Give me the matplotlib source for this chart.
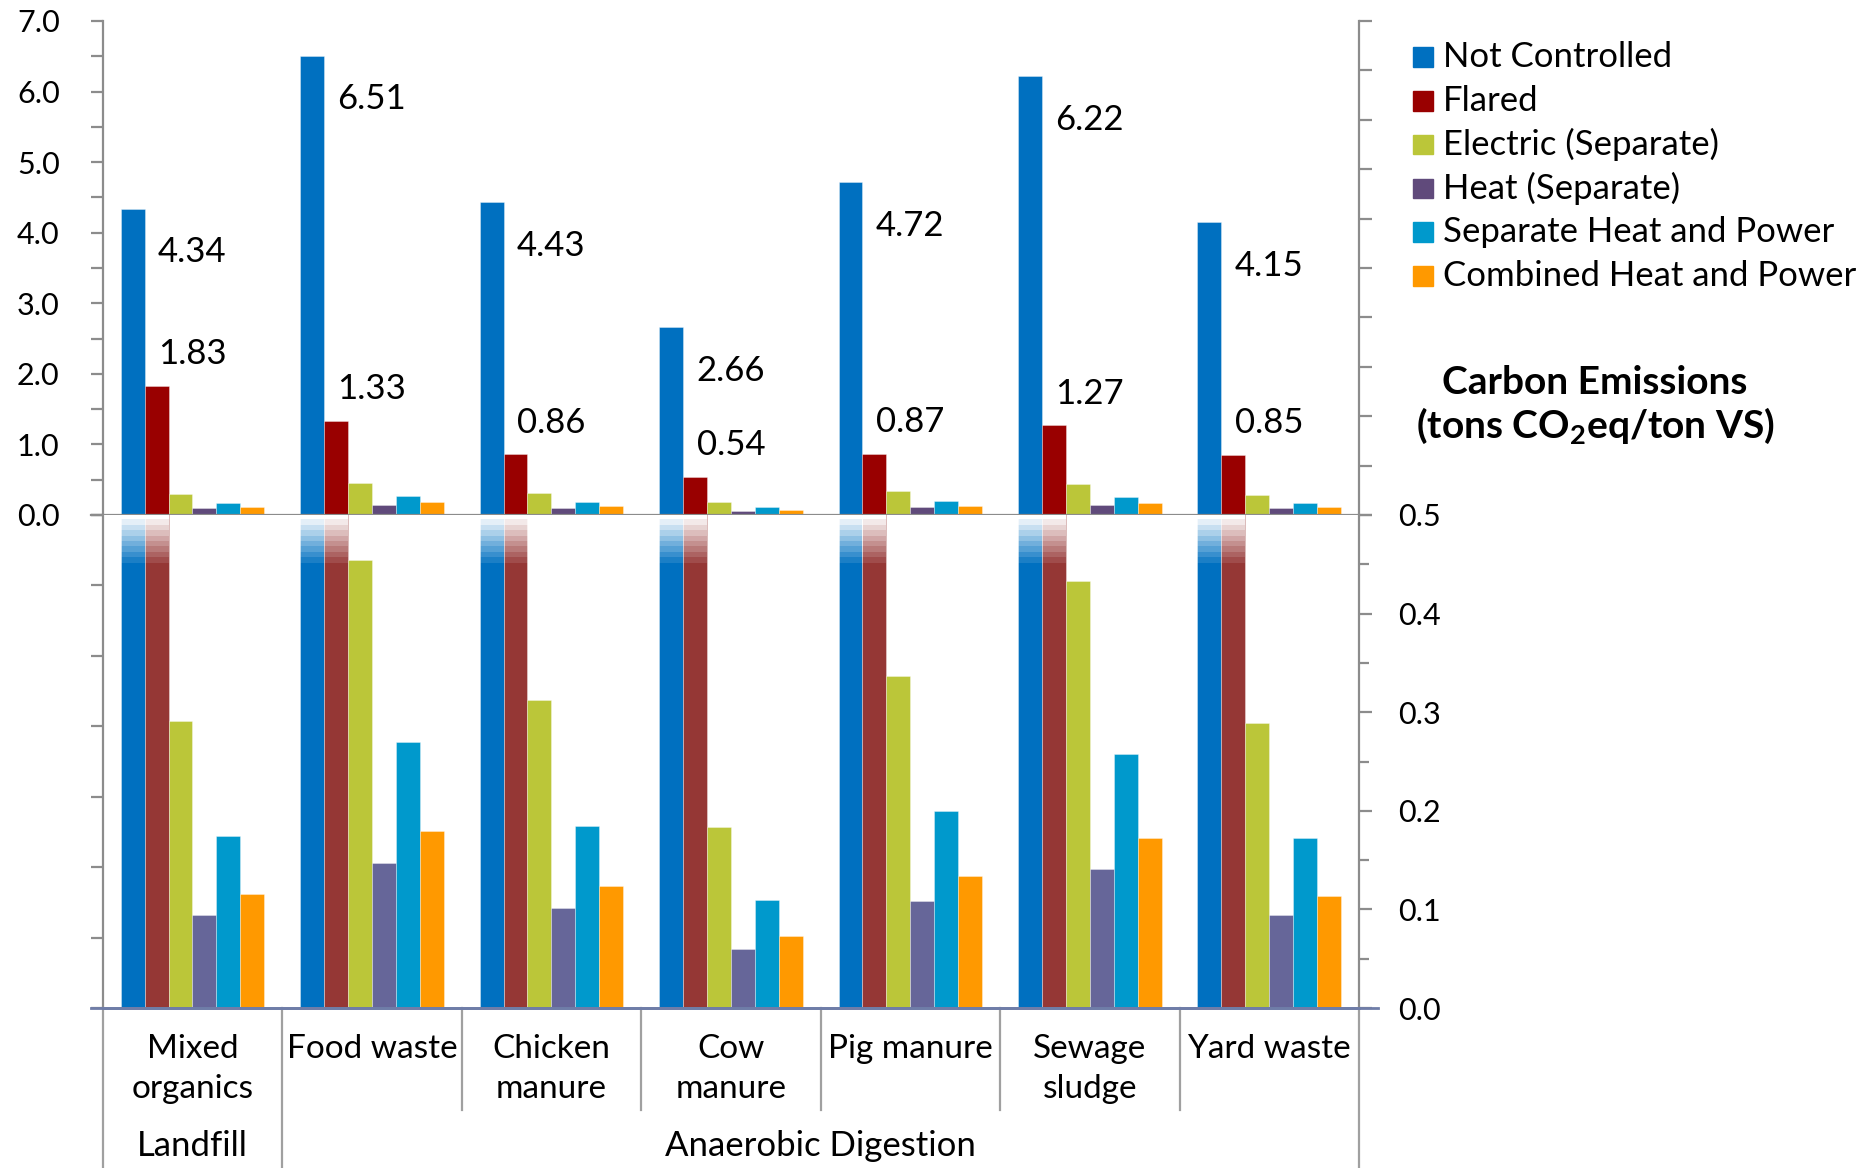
import numpy as np
import matplotlib
matplotlib.use("Agg")
import matplotlib.pyplot as plt
from matplotlib.patches import Rectangle
from matplotlib.transforms import blended_transform_factory

plt.rcParams["font.family"] = ["Lato", "DejaVu Sans"]
plt.rcParams["mathtext.fontset"] = "custom"
plt.rcParams["mathtext.rm"] = "Lato"
plt.rcParams["mathtext.bf"] = "Lato:bold"

# feedstocks and treatment groups
categories = ["Mixed\norganics", "Food waste", "Chicken\nmanure", "Cow\nmanure",
              "Pig manure", "Sewage\nsludge", "Yard waste"]
group_names = ["Landfill", "Anaerobic Digestion"]
group_spans = [(0, 0), (1, 6)]

series = ["Not Controlled", "Flared", "Electric (Separate)", "Heat (Separate)",
          "Separate Heat and Power", "Combined Heat and Power"]

# tons CO2eq / ton VS
not_controlled = [4.34, 6.51, 4.43, 2.66, 4.72, 6.22, 4.15]
flared = [1.83, 1.33, 0.86, 0.54, 0.87, 1.27, 0.85]
electric = [0.291, 0.454, 0.312, 0.184, 0.337, 0.433, 0.289]
heat = [0.094, 0.147, 0.101, 0.060, 0.109, 0.141, 0.094]
sep_heat_power = [0.174, 0.270, 0.185, 0.110, 0.200, 0.258, 0.172]
chp = [0.116, 0.180, 0.124, 0.073, 0.134, 0.172, 0.114]

values = [not_controlled, flared, electric, heat, sep_heat_power, chp]
colors_top = ["#0070C0", "#990000", "#BBC639", "#604A7B", "#0099CC", "#FF9900"]
colors_low = ["#0070C0", "#953735", "#BBC639", "#666699", "#0099CC", "#FF9900"]

W, H = 1872, 1168
fig = plt.figure(figsize=(W / 100, H / 100), dpi=100)


def fx(px):
    return px / W


def fy(px):
    return 1 - px / H


x_left, x_right = 102.7, 1359
ax1 = fig.add_axes([fx(x_left), fy(515), fx(x_right) - fx(x_left), fy(21) - fy(515)])
ax2 = fig.add_axes([fx(x_left), fy(1008), fx(x_right) - fx(x_left), fy(515) - fy(1008)])

grey = "#8C8C8C"
x = np.arange(len(categories))
width = 0.8 / 6

for i, (vals, c1, c2) in enumerate(zip(values, colors_top, colors_low)):
    pos = x + (i - 2.5) * width
    ax1.bar(pos, vals, width, color=c1, edgecolor=(1, 1, 1, 0.4), linewidth=0.6, zorder=2)
    ax2.bar(pos, vals, width, color=c2, edgecolor=(1, 1, 1, 0.4), linewidth=0.6, zorder=2)
    # fade the tops of bars cut off by the zoomed panel
    for p, v in zip(pos, vals):
        if v > 0.5:
            alphas = np.append(np.linspace(0.0, 0.9, 9), 1.0)
            grad = np.ones((len(alphas), 1, 4))
            grad[:, 0, 3] = alphas
            ax2.imshow(grad, extent=[p - width / 2, p + width / 2, 0.446, 0.5],
                       origin="lower", aspect="auto", interpolation="nearest", zorder=3)

# value labels for the two large series
for xi, v in zip(x, not_controlled):
    ax1.text(xi, v - 0.62, f"{v:.2f}", ha="center", va="center", fontsize=25)
for xi, v in zip(x, flared):
    ax1.text(xi, v + 0.45, f"{v:.2f}", ha="center", va="center", fontsize=25)

# upper panel: full scale
ax1.set_xlim(-0.5, 6.5)
ax1.set_ylim(0, 7)
ax1.spines["top"].set_visible(False)
ax1.spines["right"].set_visible(False)
for s in ["left", "bottom"]:
    ax1.spines[s].set_color(grey)
    ax1.spines[s].set_linewidth(1.6)
ax1.set_yticks(np.arange(0, 7.1, 1))
ax1.set_yticklabels([f"{v:.1f}" for v in np.arange(0, 7.1, 1)])
ax1.set_yticks(np.arange(0.5, 7, 1), minor=True)
ax1.tick_params(axis="y", which="both", direction="out", length=9, width=1.6,
                color=grey, labelsize=22, pad=22)
ax1.set_xticks(np.arange(0.5, 6.5, 1))
ax1.set_xticklabels([])
ax1.tick_params(axis="x", direction="out", length=9, width=1.6, color=grey)
sec1 = ax1.secondary_yaxis("right", functions=(lambda y: y * 10 / 7, lambda y: y * 0.7))
sec1.set_yticks(np.arange(0, 11, 1))
sec1.set_yticklabels([])
sec1.tick_params(direction="out", length=9, width=1.6, color=grey)
sec1.spines["right"].set_color(grey)
sec1.spines["right"].set_linewidth(1.6)
ax1.plot([-0.009, 0], [0, 0], transform=ax1.transAxes, color=grey, lw=1.6, clip_on=False)

# lower panel: zoom on 0-0.5
ax2.set_xlim(-0.5, 6.5)
ax2.set_ylim(0, 0.5)
ax2.spines["top"].set_visible(False)
ax2.spines["left"].set_visible(False)
ax2.spines["right"].set_color(grey)
ax2.spines["right"].set_linewidth(1.6)
ax2.spines["bottom"].set_color("#6F7DA8")
ax2.spines["bottom"].set_linewidth(2)
ax2.yaxis.tick_right()
ax2.set_yticks(np.arange(0, 0.51, 0.1))
ax2.set_yticklabels([f"{v:.1f}" for v in np.arange(0, 0.51, 0.1)])
ax2.set_yticks(np.arange(0.05, 0.5, 0.1), minor=True)
ax2.tick_params(axis="y", which="both", direction="out", length=9, width=1.6,
                color=grey, labelsize=22, pad=19)
ax2.tick_params(axis="y", which="minor", length=7)
ax2.set_xticks(x)
ax2.set_xticklabels(categories, fontsize=24, linespacing=1.42)
ax2.tick_params(axis="x", length=0, pad=18.5)
sec2 = ax2.secondary_yaxis("left", functions=(lambda y: y * 14, lambda y: y / 14))
sec2.set_yticks(np.arange(0, 8, 1))
sec2.set_yticklabels([])
sec2.tick_params(direction="out", length=9, width=1.6, color=grey)
sec2.spines["left"].set_color(grey)
sec2.spines["left"].set_linewidth(1.6)
ax2.plot([-0.009, 1.015], [0, 0], transform=ax2.transAxes, color="#6F7DA8", lw=2,
         clip_on=False, zorder=4)

# category separators and group labels below the lower panel
tr = blended_transform_factory(ax2.transData, fig.transFigure)
for b in np.arange(-0.5, 7, 1):
    full = b in (-0.5, 0.5, 6.5)
    ax2.plot([b, b], [fy(1008), fy(1168 if full else 1110)], transform=tr,
             color="#A0A0A0", lw=1.6, clip_on=False)
for name, (g0, g1) in zip(group_names, group_spans):
    ax2.text((g0 + g1) / 2, fy(1146), name, transform=tr, ha="center", va="center",
             fontsize=25)

# legend
for i, (name, c) in enumerate(zip(series, colors_top)):
    cy = 57 + i * 43.8
    fig.add_artist(Rectangle((fx(1413), fy(cy + 9.8)), fx(19.6), 19.6 / H,
                             transform=fig.transFigure, color=c))
    fig.text(fx(1443), fy(cy), name, ha="left", va="center", fontsize=25)

# axis title
fig.text(fx(1595), fy(383), "Carbon Emissions", ha="center", va="center",
         fontsize=28, fontweight="bold")
fig.text(fx(1595), fy(426), r"(tons CO$_\mathbf{2}$eq/ton VS)", ha="center",
         va="center", fontsize=28, fontweight="bold")

fig.savefig("out.png", dpi=100, facecolor="white")
